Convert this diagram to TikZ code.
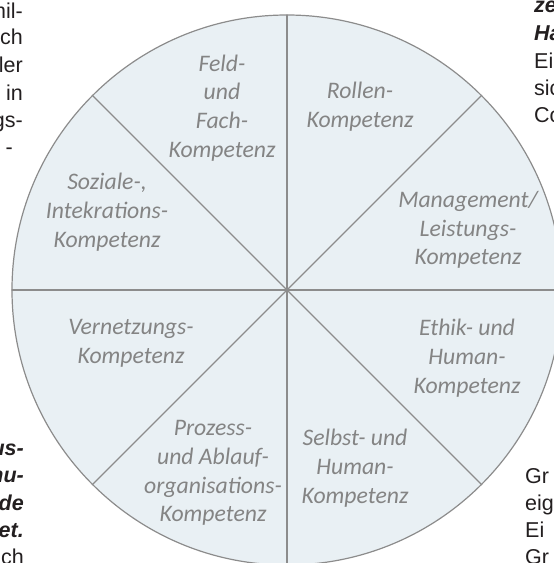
\documentclass[tikz,border=0pt]{standalone}
\usepackage{fontspec}
\usepackage{tikz}
\usepackage{tkz-euclide}
\setmainfont{Liberation Sans}
\newfontfamily\kompfont{Carlito}

\definecolor{kreisfill}{RGB}{233,240,244}
\definecolor{kreisline}{RGB}{140,140,140}
\definecolor{kompgray}{RGB}{132,132,132}
\definecolor{textdunkel}{RGB}{35,31,32}

\tikzset{
  kompetenz/.style={align=center, text=kompgray, inner sep=0pt,
    font=\kompfont\itshape\fontsize{23.7}{28.7}\selectfont},
  fliesstext/.style={inner sep=0pt, text=textdunkel,
    font=\fontsize{21.5}{27}\selectfont},
}

\begin{document}
\begin{tikzpicture}[x=1pt,y=1pt]
  \useasboundingbox (-287,-273) rectangle (267,290);

  % Mittelpunkt und Randpunkte der acht Sektoren
  \tkzDefPoint(0,0){O}
  \tkzDefPoint(0:275){A}
  \tkzDefPoint(45:275){B}
  \tkzDefPoint(90:275){C}
  \tkzDefPoint(135:275){D}
  \tkzDefPoint(180:275){E}
  \tkzDefPoint(225:275){F}
  \tkzDefPoint(270:275){G}
  \tkzDefPoint(315:275){H}

  \tkzFillCircle[fill=kreisfill](O,A)
  \tkzDrawCircle[color=kreisline, line width=1.2pt](O,A)
  \tkzDrawSegments[color=kreisline, line width=1.2pt](O,A O,B O,C O,D O,E O,F O,G O,H)

  % Kompetenzfelder
  \node[kompetenz] (feld) at (-65,182) {Feld-\\und\\Fach-\\Kompetenz};
  \node[kompetenz] (rollen) at (73,183) {Rollen-\\Kompetenz};
  \node[kompetenz] (management) at (181,60) {Management/\\Leistungs-\\Kompetenz};
  \node[kompetenz] (ethik) at (180,-68) {Ethik- und\\Human-\\Kompetenz};
  \node[kompetenz] (selbst) at (68,-178) {Selbst- und\\Human-\\Kompetenz};
  \node[kompetenz] (prozess) at (-74,-183) {Prozess-\\und Ablauf-\\organisations-\\Kompetenz};
  \node[kompetenz] (soziale) at (-180,78) {Soziale-,\\Intekrations-\\Kompetenz};
  \node[kompetenz] (vernetzung) at (-156,-53) {Vernetzungs-\\Kompetenz};

  % Fliesstext am Rand
  \foreach \wort/\yy [count=\i] in {mil-/272, ch/245, ler/218, in/190, gs-/163}
    \node[fliesstext, anchor=base east] (links\i) at (-264,\yy) {\wort};
  \node[fliesstext, anchor=base east] (links6) at (-274,136) {-};
  \foreach \wort/\yy [count=\i] in {\textbf{\textit{ze}}/277, \textbf{\textit{Ha}}/250, Ei/222, sic/195, Co/168}
    \node[fliesstext, anchor=base west] (rechts\i) at (247,\yy) {\wort};
  \foreach \wort/\yy [count=\i] in {\textbf{\textit{us-}}/-165, \textbf{\textit{nu-}}/-192, \textbf{\textit{de}}/-220, \textbf{\textit{et.}}/-247, ch/-274}
    \node[fliesstext, anchor=base east] (untenlinks\i) at (-263,\yy) {\wort};
  \foreach \wort/\yy [count=\i] in {Gr/-193, eig/-220, Ei/-247, Gr/-274}
    \node[fliesstext, anchor=base west] (untenrechts\i) at (238,\yy) {\wort};
\end{tikzpicture}
\end{document}
